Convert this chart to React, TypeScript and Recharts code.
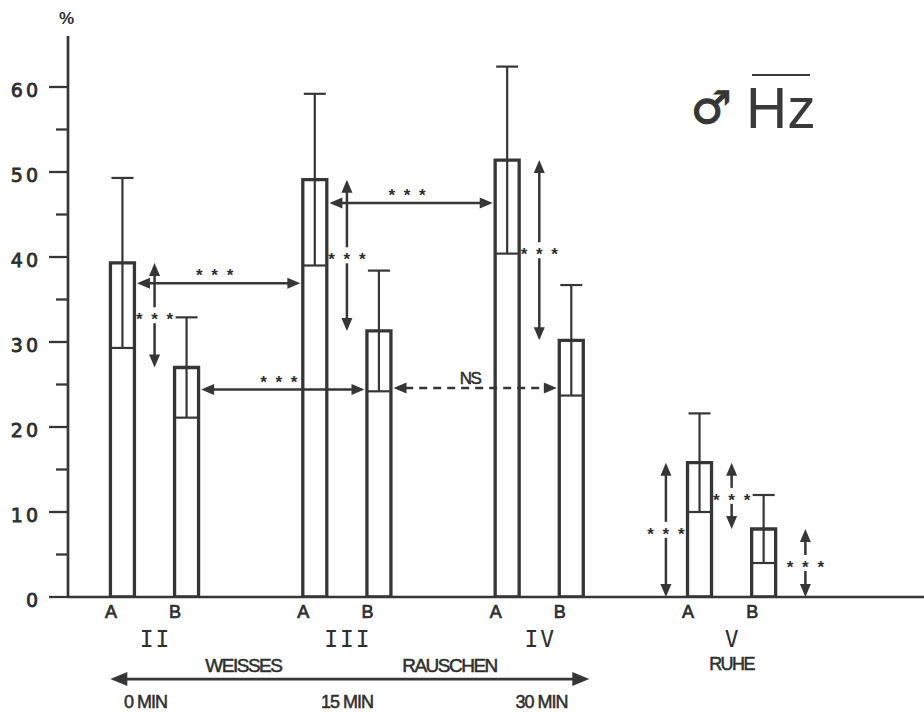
import React from 'react';
import { ComposedChart, Bar, ErrorBar, XAxis, YAxis, ReferenceLine } from 'recharts';

// ---------- data ----------
const groupLabels = ['II', 'III', 'IV', 'V'];
const subLabels = ['A', 'B'];
const groupSlotsA = [0, 6, 12, 18];
const slotOffsetB = 2;
const valuesA = [39.3, 49.1, 51.4, 15.8];
const valuesB = [27.0, 31.3, 30.2, 8.0];
const errorsA = [10.0, 10.1, 11.0, 5.8];
const errorsB = [5.9, 7.1, 6.5, 4.0];

const yTicks = [0, 5, 10, 15, 20, 25, 30, 35, 40, 45, 50, 55, 60];
const yLabelTicks = [0, 10, 20, 30, 40, 50, 60];

// comparisons between successive noise phases (horizontal arrows)
const acrossFrom = [0, 0, 1, 1];
const acrossTo = [1, 1, 2, 2];
const acrossSub = ['A', 'B', 'A', 'B'];
const acrossLevel = [36.9, 24.4, 46.35, 24.6];
const acrossLabel = ['* * *', '* * *', '* * *', 'NS'];

// A vs B within each phase (vertical arrows)
const withinGroups = [0, 1, 2, 3];
const withinLabel = ['* * *', '* * *', '* * *', '* * *'];

// rest phase vs zero
const restGroup = 3;
const restSub = ['A', 'B'];
const restOffset = [-1.05, 1.3];
const restLabel = ['* * *', '* * *'];

const phaseLabels = ['WEISSES', 'RAUSCHEN', 'RUHE'];
const phasePos = [3.77, 10.2, 19.0];
const timeLabels = ['0 MIN', '15 MIN', '30 MIN'];
const timePos = [0.72, 7.0, 13.07];
const timeSpan = [-0.38, 14.56];
const timeLevel = -9.65;

// ---------- layout ----------
const W = 924;
const H = 712;
const MARGIN_TOP = 36;
const Y_AXIS_W = 68;
const AXIS_H = [28, 28, 22, 37];
const PLOT_BOTTOM = H - AXIS_H.reduce((a, b) => a + b, 0);
const X_DOMAIN: [number, number] = [-1.7, 25.0];
const Y_DOMAIN: [number, number] = [0, 66];
const INK = '#363636';
const TEXT = '#2e2e2e';

const data = groupLabels.flatMap((g, i) => [
  { x: groupSlotsA[i], value: valuesA[i], err: errorsA[i], sub: subLabels[0], group: g },
  { x: groupSlotsA[i] + slotOffsetB, value: valuesB[i], err: errorsB[i], sub: subLabels[1], group: g },
]);
const xOf = (g: number, sub: string) => groupSlotsA[g] + (sub === 'B' ? slotOffsetB : 0);
const valOf = (g: number, sub: string) => (sub === 'B' ? valuesB[g] : valuesA[g]);
const groupCenters = groupSlotsA.map((s) => s + slotOffsetB / 2);

// ---------- ticks ----------
const YTick = (p: any) => {
  const v = p.payload?.value;
  const y = p.y;
  const major = yLabelTicks.includes(v);
  return (
    <g>
      <line x1={major ? 49 : 56} x2={Y_AXIS_W} y1={y} y2={y} stroke={INK} strokeWidth={2.3} />
      {major && (
        <text x={41} y={y + 9.5} textAnchor="end" fontFamily="DejaVu Sans" fontSize={19} letterSpacing={3} fill={TEXT} stroke={TEXT} strokeWidth={0.8}>
          {v}
        </text>
      )}
    </g>
  );
};

const SubTick = (p: any) => {
  const v = p.payload?.value;
  const d = data.find((e) => e.x === v);
  return (
    <text x={p.x - 11.5} y={PLOT_BOTTOM + 21} textAnchor="middle" fontFamily="Liberation Sans" fontSize={18} fill={TEXT} stroke={TEXT} strokeWidth={0.7}>
      {d ? d.sub : ''}
    </text>
  );
};

const RomanTick = (p: any) => {
  const i = groupCenters.indexOf(p.payload?.value);
  return (
    <text x={p.x + 1} y={PLOT_BOTTOM + 50} textAnchor="middle" fontFamily="DejaVu Sans Mono" fontSize={23} letterSpacing={2} fill={TEXT}>
      {i >= 0 ? groupLabels[i] : ''}
    </text>
  );
};

const PhaseTick = (p: any) => {
  const i = phasePos.indexOf(p.payload?.value);
  const rest = i === 2;
  return (
    <text
      x={p.x}
      y={PLOT_BOTTOM + (rest ? 73 : 75)}
      textAnchor="middle"
      fontFamily="Liberation Sans"
      fontSize={rest ? 18 : 19}
      letterSpacing={-1.5}
      fill={TEXT}
      stroke={TEXT}
      strokeWidth={0.5}
    >
      {i >= 0 ? phaseLabels[i] : ''}
    </text>
  );
};

const TimeTick = (p: any) => {
  const i = timePos.indexOf(p.payload?.value);
  return (
    <text x={p.x} y={PLOT_BOTTOM + 111} textAnchor="middle" fontFamily="Liberation Sans" fontSize={18} letterSpacing={-1} fill={TEXT} stroke={TEXT} strokeWidth={0.5}>
      {i >= 0 ? timeLabels[i] : ''}
    </text>
  );
};

// ---------- arrow shape ----------
type ArrowOpt = {
  trim?: number;
  head?: number;
  half?: number;
  dashed?: boolean;
  gap?: number;
  label?: string;
  mode?: 'side' | 'above' | 'ns' | 'none';
  sw?: number;
};

const starText = (x: number, y: number, s: string) => (
  <text x={x} y={y} textAnchor="middle" fontFamily="Liberation Sans" fontWeight="bold" fontSize={17} letterSpacing={2} fill={TEXT}>
    {s}
  </text>
);

const arrowShape = (o: ArrowOpt) => (p: any) => {
  let x1 = Number(p.x1), y1 = Number(p.y1), x2 = Number(p.x2), y2 = Number(p.y2);
  const dx = x2 - x1, dy = y2 - y1;
  const len = Math.hypot(dx, dy) || 1;
  const ux = dx / len, uy = dy / len;
  const t = o.trim ?? 0;
  x1 += ux * t; y1 += uy * t; x2 -= ux * t; y2 -= uy * t;
  const hl = o.head ?? 13, hw = o.half ?? 5.5;
  const nx = -uy, ny = ux;
  const tri = (tx: number, ty: number, sx: number, sy: number) => {
    const bx = tx - sx * hl, by = ty - sy * hl;
    return `${tx},${ty} ${bx + nx * hw},${by + ny * hw} ${bx - nx * hw},${by - ny * hw}`;
  };
  const sx = x1 + ux * hl * 0.9, sy = y1 + uy * hl * 0.9;
  const ex = x2 - ux * hl * 0.9, ey = y2 - uy * hl * 0.9;
  const mx = (x1 + x2) / 2, my = (y1 + y2) / 2;
  const g = o.gap ?? 0;
  const sw = o.sw ?? 2.5;
  const dash = o.dashed ? '8 6' : undefined;
  const segs =
    g > 0
      ? [
          [sx, sy, mx - ux * g, my - uy * g],
          [mx + ux * g, my + uy * g, ex, ey],
        ]
      : [[sx, sy, ex, ey]];
  let label: React.ReactNode = null;
  if (o.label && o.mode === 'side') {
    label = starText(mx + 1, my + 10, o.label);
  } else if (o.label && o.mode === 'above') {
    label = starText(mx - 3, my - 2, o.label);
  } else if (o.label && o.mode === 'ns') {
    label = (
      <text x={mx - 5} y={my - 4} textAnchor="middle" fontFamily="Liberation Sans" fontSize={17} letterSpacing={-1.5} fill={TEXT} stroke={TEXT} strokeWidth={0.5}>
        {o.label}
      </text>
    );
  }
  return (
    <g>
      {segs.map((s, i) => (
        <line key={i} x1={s[0]} y1={s[1]} x2={s[2]} y2={s[3]} stroke={INK} strokeWidth={sw} strokeDasharray={dash} />
      ))}
      <polygon points={tri(x1, y1, -ux, -uy)} fill={INK} />
      <polygon points={tri(x2, y2, ux, uy)} fill={INK} />
      {label}
    </g>
  );
};

const sharedX = {
  dataKey: 'x',
  type: 'number' as const,
  domain: X_DOMAIN,
  allowDataOverflow: true,
  interval: 0 as const,
  tickLine: false,
  tickSize: 0,
};

// ---------- app ----------
export default function App() {
  return (
    <div style={{ position: 'absolute', left: 0, top: 0, width: W, height: H, background: '#fff' }}>
      <ComposedChart width={W} height={H} data={data} margin={{ top: MARGIN_TOP, right: 0, bottom: 0, left: 0 }}>
        <XAxis
          xAxisId="main"
          {...sharedX}
          ticks={data.map((d) => d.x)}
          tick={<SubTick />}
          axisLine={{ stroke: INK, strokeWidth: 2.7 }}
          height={AXIS_H[0]}
        />
        <XAxis xAxisId="roman" {...sharedX} ticks={groupCenters} tick={<RomanTick />} axisLine={false} height={AXIS_H[1]} />
        <XAxis xAxisId="phase" {...sharedX} ticks={phasePos} tick={<PhaseTick />} axisLine={false} height={AXIS_H[2]} />
        <XAxis xAxisId="time" {...sharedX} ticks={timePos} tick={<TimeTick />} axisLine={false} height={AXIS_H[3]} />
        <YAxis
          type="number"
          domain={Y_DOMAIN}
          allowDataOverflow
          ticks={yTicks}
          interval={0}
          width={Y_AXIS_W}
          tick={<YTick />}
          tickLine={false}
          tickSize={0}
          axisLine={{ stroke: INK, strokeWidth: 2.7 }}
        />
        <Bar xAxisId="main" dataKey="value" barSize={24} fill="#fff" stroke={INK} strokeWidth={3.3} isAnimationActive={false}>
          <ErrorBar dataKey="err" width={11} stroke={INK} strokeWidth={2.2} isAnimationActive={false} />
        </Bar>

        {acrossFrom.map((f, i) => (
          <ReferenceLine
            key={'h' + i}
            xAxisId="main"
            ifOverflow="visible"
            segment={[
              { x: xOf(f, acrossSub[i]), y: acrossLevel[i] },
              { x: xOf(acrossTo[i], acrossSub[i]), y: acrossLevel[i] },
            ]}
            shape={arrowShape({
              trim: 14.5,
              dashed: acrossLabel[i] === 'NS',
              label: acrossLabel[i],
              mode: acrossLabel[i] === 'NS' ? 'ns' : 'above',
            })}
          />
        ))}

        {withinGroups.map((g, i) => (
          <ReferenceLine
            key={'v' + i}
            xAxisId="main"
            ifOverflow="visible"
            segment={[
              { x: groupCenters[g], y: valuesA[g] },
              { x: groupCenters[g], y: valuesB[g] },
            ]}
            shape={arrowShape({ gap: 8, label: withinLabel[i], mode: 'side' })}
          />
        ))}

        {restSub.map((s, i) => (
          <ReferenceLine
            key={'r' + i}
            xAxisId="main"
            ifOverflow="visible"
            segment={[
              { x: xOf(restGroup, s) + restOffset[i], y: valOf(restGroup, s) },
              { x: xOf(restGroup, s) + restOffset[i], y: 0 },
            ]}
            shape={arrowShape({ gap: 8, label: restLabel[i], mode: 'side' })}
          />
        ))}

        <ReferenceLine
          xAxisId="main"
          ifOverflow="visible"
          segment={[
            { x: timeSpan[0], y: timeLevel },
            { x: timeSpan[1], y: timeLevel },
          ]}
          shape={arrowShape({ head: 17, half: 7, sw: 2.7 })}
        />
      </ComposedChart>
      <svg width={W} height={H} style={{ position: 'absolute', left: 0, top: 0, pointerEvents: 'none' }}>
        <text x={66.5} y={24} textAnchor="middle" fontFamily="Liberation Sans" fontWeight="bold" fontSize={17} fill={TEXT}>
          %
        </text>
        <text x={711} y={123} textAnchor="middle" fontFamily="DejaVu Sans" fontSize={45} fill="#363636" stroke="#363636" strokeWidth={1.2}>
          ♂
        </text>
        <text x={746} y={128} fontFamily="Liberation Sans" fontSize={57} fill="#3a3a3a">
          Hz
        </text>
        <line x1={752} x2={810} y1={75} y2={75} stroke="#3a3a3a" strokeWidth={2} />
      </svg>
    </div>
  );
}
